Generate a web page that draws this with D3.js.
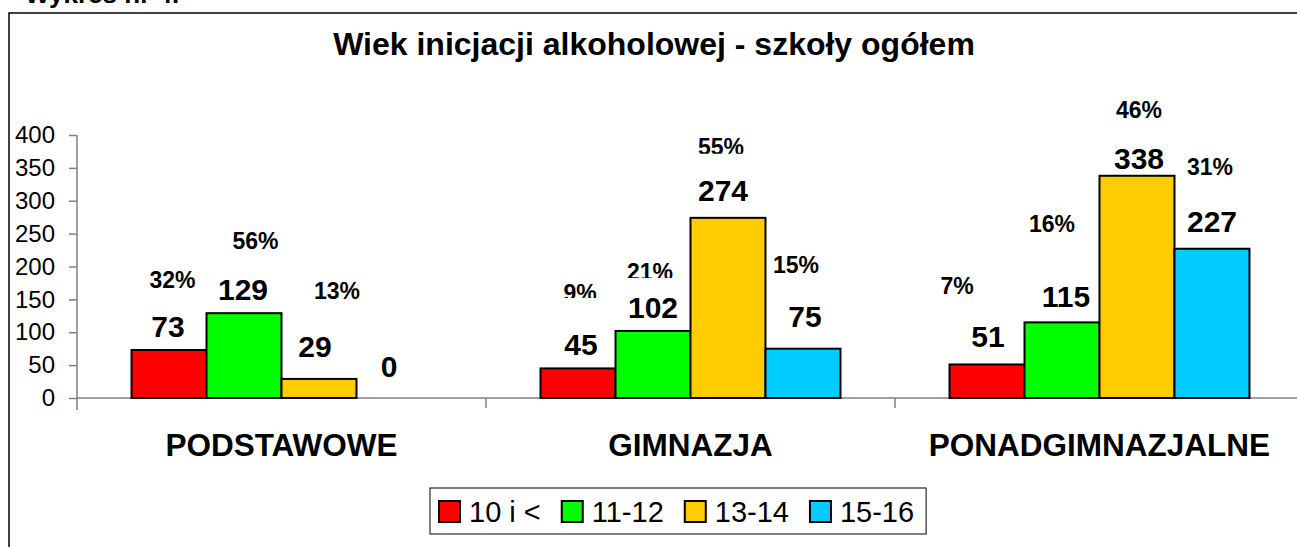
<!DOCTYPE html>
<html><head><meta charset="utf-8">
<script src="https://cdn.jsdelivr.net/npm/d3@7/dist/d3.min.js"></script>
<style>
html,body{margin:0;padding:0;background:#fff;}
svg{display:block;font-family:"Liberation Sans",Arial,sans-serif;}
</style></head>
<body>
<svg id="chart" width="1297" height="547"></svg>
<script>
// ---- data ----
const categories = ["PODSTAWOWE", "GIMNAZJA", "PONADGIMNAZJALNE"];
const seriesNames = ["10 i <", "11-12", "13-14", "15-16"];
const seriesColors = ["#FF0000", "#00FF00", "#FFCC00", "#00CCFF"];
const valuesBySeries = [
  [73, 45, 51],     // 10 i <
  [129, 102, 115],  // 11-12
  [29, 274, 338],   // 13-14
  [0, 75, 227]      // 15-16
];
const yTicks = [0, 50, 100, 150, 200, 250, 300, 350, 400];
const titleText = "Wiek inicjacji alkoholowej - szkoły ogółem";
const captionText = "Wykres nr 4.";

// ---- layout (label placement, manual in original chart) ----
const valueLift = [[13, 13, 17], [13, 13, 15], [22, 17, 7], [21, 22, 17]];
const valueDx   = [[-1, 3, 1], [-1, 0, 4], [-4, -5, 2], [-5, 2, 0]];
const pctLift   = [[62, 67, 70], [64, 51, 90], [80, 63, 58], [0, 76, 74]];
const pctDx     = [[3.5, 2, -30], [11.5, -3, -10], [18, -7, 2], [0, -7, -2]];
const pctClip   = [[0, 3.5, 0], [0, 2, 0], [0, 1, 0], [0, 0, 0]];

const svg = d3.select("#chart");
const defs = svg.append("defs");

// caption (cut off at top, as in the original)
svg.append("text").attr("x", 25).attr("y", 3)
  .attr("font-size", 26).attr("font-weight", "bold").text(captionText);

// frame
svg.append("rect").attr("x", 9).attr("y", 13).attr("width", 1400).attr("height", 600)
  .attr("fill", "none").attr("stroke", "#000").attr("stroke-width", 1.5);

// title
svg.append("text").attr("x", 654).attr("y", 55).attr("text-anchor", "middle")
  .attr("font-size", 32).attr("font-weight", "bold").text(titleText);

const x0 = d3.scaleBand().domain(categories).range([77, 77 + 409 * 3]).padding(0);
const x1 = d3.scaleBand().domain(d3.range(seriesNames.length)).range([0, x0.bandwidth()])
  .paddingInner(0).paddingOuter(0.727);
const y = d3.scaleLinear().domain([0, 400]).range([398, 135]);

// y axis
const yAxis = svg.append("g").attr("transform", "translate(77,0)")
  .call(d3.axisLeft(y).tickValues(yTicks).tickSize(8).tickPadding(14).tickSizeOuter(0));
yAxis.select(".domain").attr("stroke", "#808080").attr("stroke-width", 1.5)
  .attr("d", `M0,${y(400)}V${y(0) + 12}`);
yAxis.selectAll(".tick line").attr("stroke", "#808080").attr("stroke-width", 1.5);
yAxis.selectAll(".tick text").attr("font-size", 24).attr("fill", "#000")
  .attr("font-family", "Liberation Sans, Arial, sans-serif");

// x axis line + boundary ticks
svg.append("line").attr("x1", 77).attr("x2", 1297).attr("y1", y(0)).attr("y2", y(0))
  .attr("stroke", "#808080").attr("stroke-width", 1.5);
svg.selectAll(".xb").data(categories.slice(1)).enter().append("line")
  .attr("x1", d => x0(d)).attr("x2", d => x0(d))
  .attr("y1", y(0)).attr("y2", y(0) + 10)
  .attr("stroke", "#808080").attr("stroke-width", 1.5);

// category labels
svg.selectAll(".cat").data(categories).enter().append("text")
  .attr("x", d => x0(d) + x0.bandwidth() / 2).attr("y", 456)
  .attr("text-anchor", "middle").attr("font-size", 31.5).attr("font-weight", "bold")
  .text(d => d);

// bars
const totals = categories.map((c, ci) => d3.sum(valuesBySeries, s => s[ci]));
valuesBySeries.forEach((vals, si) => {
  vals.forEach((v, ci) => {
    const bx = x0(categories[ci]) + x1(si);
    const bw = x1.bandwidth();
    if (v > 0) {
      svg.append("rect").attr("x", bx).attr("y", y(v)).attr("width", bw)
        .attr("height", y(0) - y(v)).attr("fill", seriesColors[si])
        .attr("stroke", "#000").attr("stroke-width", 2);
    }
    svg.append("text").attr("x", bx + bw / 2 + valueDx[si][ci])
      .attr("y", y(v) - valueLift[si][ci]).attr("text-anchor", "middle")
      .attr("font-size", 30).attr("font-weight", "bold").text(v);
    if (v > 0) {
      const pct = Math.round(v / totals[ci] * 100);
      const py = y(v) - pctLift[si][ci];
      const t = svg.append("text").attr("x", bx + bw / 2 + pctDx[si][ci])
        .attr("y", py).attr("text-anchor", "middle")
        .attr("font-size", 23).attr("font-weight", "bold").text(pct + "%");
      if (pctClip[si][ci] > 0) {
        const id = `clip-${si}-${ci}`;
        defs.append("clipPath").attr("id", id).append("rect")
          .attr("x", bx - 40).attr("y", py - 40).attr("width", bw + 80)
          .attr("height", 40 - pctClip[si][ci]);
        t.attr("clip-path", `url(#${id})`);
      }
    }
  });
});

// legend
const lg = svg.append("g");
const lbox = lg.append("rect").attr("x", 430).attr("y", 488).attr("height", 46)
  .attr("fill", "#fff").attr("stroke", "#000").attr("stroke-width", 1);
let lx = 439;
seriesNames.forEach((n, i) => {
  lg.append("rect").attr("x", lx).attr("y", 501).attr("width", 21).attr("height", 21)
    .attr("fill", seriesColors[i]).attr("stroke", "#000").attr("stroke-width", 2);
  const t = lg.append("text").attr("x", lx + 30).attr("y", 522)
    .attr("font-size", 29).text(n);
  lx += 30 + t.node().getComputedTextLength() + 21;
});
lbox.attr("width", lx - 21 - 430 + 12);
</script>
</body></html>
